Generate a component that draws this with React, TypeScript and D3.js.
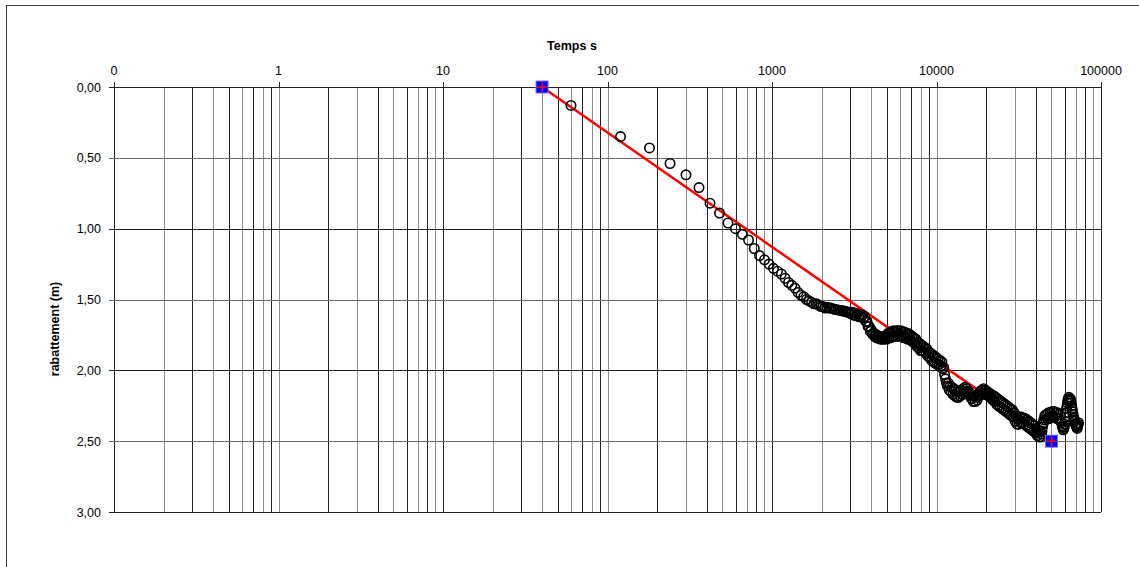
import * as d3 from "d3";
import { useRef, useEffect } from "react";

const timeEarly = [
  60, 120, 180, 240, 300, 360, 420, 480, 540, 600, 660, 720, 780, 840, 900, 960, 1020, 1080, 1140, 1200,
  1260, 1320, 1380, 1440, 1500, 1560, 1620, 1680, 1740, 1800, 1860, 1920, 1980, 2040, 2100,
  2160, 2220, 2280, 2340, 2400, 2460, 2520, 2580, 2640, 2700, 2760, 2820, 2880, 2940, 3000, 3060, 3120, 3180,
  3240, 3300, 3360, 3420, 3480, 3540, 3600, 3660, 3720, 3780, 3840, 3900, 3960, 4020, 4080, 4140, 4200, 4260,
  4320, 4380, 4440, 4500, 4560, 4620, 4680, 4740, 4800, 4860, 4920, 4980,
];
const drawdownEarly = [
  0.13, 0.35, 0.43, 0.54, 0.62, 0.71, 0.82, 0.89, 0.96, 1.0, 1.04, 1.08, 1.14, 1.19, 1.22, 1.25, 1.28, 1.3, 1.32, 1.35,
  1.38, 1.4, 1.42, 1.45, 1.47, 1.48, 1.5, 1.51, 1.52, 1.53, 1.53, 1.54, 1.55, 1.55, 1.56,
  1.555, 1.56, 1.56, 1.565, 1.57, 1.57, 1.575, 1.575, 1.58, 1.58, 1.585, 1.585, 1.59, 1.59, 1.6, 1.59, 1.61, 1.595,
  1.615, 1.6, 1.62, 1.605, 1.625, 1.61, 1.63, 1.62, 1.655, 1.655, 1.69, 1.69, 1.725, 1.715, 1.745, 1.735, 1.76, 1.745,
  1.77, 1.755, 1.775, 1.76, 1.78, 1.765, 1.78, 1.765, 1.78, 1.76, 1.775, 1.755,
];
const timeLate = [
  5000, 5070, 5130, 5200, 5270, 5340, 5410, 5480, 5550, 5620, 5700, 5770, 5850, 5920, 6000, 6080, 6160, 6240,
  6320, 6400, 6490, 6570, 6660, 6750, 6830, 6920, 7010, 7110, 7200, 7290, 7390, 7490, 7580, 7680, 7780, 7890,
  7990, 8090, 8200, 8310, 8420, 8530, 8640, 8750, 8870, 8980, 9100, 9220, 9340, 9460, 9590, 9710, 9840, 9970,
  10100, 10230, 10370, 10500, 10640, 10780, 10920, 11060, 11210, 11350, 11500, 11650, 11800, 11960, 12110,
  12270, 12430, 12600, 12760, 12930, 13100, 13270, 13440, 13620, 13800, 13980, 14160, 14340, 14530, 14720,
  14910, 15110, 15300, 15500, 15710, 15910, 16120, 16330, 16550, 16760, 16980, 17200, 17430, 17660, 17890,
  18120, 18360, 18600, 18840, 19090, 19340, 19590, 19850, 20110, 20370, 20640, 20900, 21180, 21450, 21730,
  22020, 22300, 22600, 22890, 23190, 23490, 23800, 24110, 24430, 24740, 25070, 25390, 25720, 26060, 26400,
  26750, 27100, 27450, 27810, 28170, 28540, 28910, 29290, 29670, 30060, 30450, 30850, 31250, 31660, 32070,
  32490, 32910, 33340, 33780, 34220, 34660, 35120, 35570, 36040, 36510, 36990, 37470, 37960, 38450, 38960,
  39460, 39980, 40500, 41030, 41570, 42110, 42660, 43220, 43780, 44350, 44930, 45520, 46110, 46710, 47320,
  47940, 48570, 49200, 49840, 50490, 51150, 51820, 52500, 53180, 53870, 54580, 55290, 56010, 56740, 57480,
  58230, 58990, 59760, 60540, 61330, 62130, 62940, 63760, 64590, 65430, 66290, 67150, 68020, 68910, 69810,
  70720, 71640, 72570, 73000,
];
const drawdownLate = [
  1.78, 1.74, 1.77, 1.73, 1.77, 1.73, 1.76, 1.72, 1.76, 1.73, 1.72, 1.76, 1.72, 1.75, 1.76, 1.72, 1.76, 1.73,
  1.77, 1.73, 1.77, 1.74, 1.78, 1.74, 1.78, 1.75, 1.79, 1.76, 1.8, 1.77, 1.81, 1.78, 1.83, 1.8, 1.84, 1.81,
  1.86, 1.82, 1.86, 1.83, 1.87, 1.84, 1.88, 1.85, 1.9, 1.87, 1.91, 1.88, 1.93, 1.89, 1.94, 1.9, 1.95, 1.91,
  1.96, 1.92, 1.96, 1.93, 1.97, 1.94, 1.99, 1.98, 2.03, 2.06, 2.09, 2.11, 2.09, 2.14, 2.11,
  2.15, 2.12, 2.17, 2.13, 2.18, 2.14, 2.19, 2.15, 2.19, 2.15, 2.18, 2.14, 2.17, 2.13, 2.16,
  2.12, 2.15, 2.13, 2.16, 2.15, 2.18, 2.17, 2.2, 2.18, 2.22, 2.18, 2.22, 2.19, 2.21, 2.18,
  2.18, 2.15, 2.17, 2.14, 2.16, 2.13, 2.17, 2.14, 2.17, 2.15, 2.18, 2.16, 2.19, 2.17, 2.2,
  2.21, 2.18, 2.22, 2.19, 2.24, 2.2, 2.25, 2.21, 2.26, 2.22, 2.27, 2.23, 2.28, 2.24, 2.29,
  2.25, 2.3, 2.26, 2.31, 2.27, 2.32, 2.28, 2.33, 2.3, 2.36, 2.32, 2.38, 2.34, 2.38, 2.33,
  2.37, 2.33, 2.37, 2.34, 2.38, 2.34, 2.39, 2.35, 2.4, 2.36, 2.41, 2.37, 2.42, 2.38, 2.43,
  2.39, 2.44, 2.41, 2.46, 2.42, 2.47, 2.43, 2.47, 2.43, 2.38, 2.35, 2.32, 2.35, 2.31, 2.34,
  2.3, 2.34, 2.3, 2.33, 2.29, 2.33, 2.29, 2.33, 2.3, 2.34, 2.3, 2.34, 2.31, 2.36, 2.37,
  2.4, 2.42, 2.4, 2.36, 2.3, 2.25, 2.21, 2.19, 2.22, 2.21, 2.25, 2.29, 2.33, 2.35, 2.38,
  2.39, 2.41, 2.38, 2.37,
];
// extra readings where the record jumps quickly (end of test)
const timeTail = [
  41300, 43500, 44100, 44600, 58600, 59370, 60150, 60930, 61730, 62530, 63350, 64170, 65010, 65860, 66720,
  67580, 68460, 69360, 70260, 71180, 72100,
];
const drawdownTail = [
  2.44, 2.45, 2.4, 2.37, 2.39, 2.41, 2.38, 2.33, 2.27, 2.23, 2.2, 2.21, 2.2, 2.23, 2.27,
  2.31, 2.34, 2.36, 2.38, 2.4, 2.39,
];

// straight-line fit (Jacob) through two picked points
const fitTime = [40, 50000];
const fitDrawdown = [0, 2.5];

const xDecades = [0.1, 1, 10, 100, 1000, 10000, 100000];
const yTicks = [0, 0.5, 1, 1.5, 2, 2.5, 3];

export default function App() {
  const ref = useRef<SVGSVGElement>(null);

  const width = 1139;
  const height = 567;
  const marginLeft = 114;
  const marginRight = 38;
  const marginTop = 87;
  const plotBottom = 512;
  const font = "'Liberation Sans', Arial, sans-serif";

  useEffect(() => {
    const svg = d3.select(ref.current);
    svg.selectAll("*").remove();

    const x = d3.scaleLog().domain([0.1, 100000]).range([marginLeft, width - marginRight]);
    const y = d3.scaleLinear().domain([0, 3]).range([marginTop, plotBottom]);

    const times = timeEarly.concat(timeLate, timeTail);
    const values = drawdownEarly.concat(drawdownLate, drawdownTail);

    // chart frame
    svg.append("rect")
      .attr("x", 6.5).attr("y", 5.5)
      .attr("width", width + 20).attr("height", height + 20)
      .attr("fill", "white").attr("stroke", "#3c3c3c");

    // vertical gridlines on every log tick
    const minor: number[] = [];
    for (let d = 0.1; d < 100000; d *= 10) {
      for (let k = 1; k < 10; k++) minor.push(+(d * k).toPrecision(3));
    }
    minor.push(100000);
    svg.append("g")
      .selectAll("line")
      .data(minor)
      .join("line")
        .attr("x1", d => Math.round(x(d)) + 0.5)
        .attr("x2", d => Math.round(x(d)) + 0.5)
        .attr("y1", marginTop)
        .attr("y2", plotBottom)
        .attr("stroke", (d, i) => (i % 2 ? "#8a8a8a" : "#222"))
        .attr("stroke-width", 1);

    // horizontal gridlines
    svg.append("g")
      .selectAll("line")
      .data(yTicks)
      .join("line")
        .attr("x1", marginLeft - 5)
        .attr("x2", width - marginRight)
        .attr("y1", d => Math.round(y(d)) + 0.5)
        .attr("y2", d => Math.round(y(d)) + 0.5)
        .attr("stroke", (d, i) => (i % 2 ? "#6a6a6a" : "#222"));

    // top axis ticks + labels
    const xAxis = svg.append("g");
    xAxis.selectAll("line")
      .data(xDecades)
      .join("line")
        .attr("x1", d => Math.round(x(d)) + 0.5)
        .attr("x2", d => Math.round(x(d)) + 0.5)
        .attr("y1", marginTop - 5)
        .attr("y2", marginTop)
        .attr("stroke", "#222");
    xAxis.selectAll("text")
      .data(xDecades)
      .join("text")
        .attr("x", d => x(d))
        .attr("y", 75)
        .attr("text-anchor", "middle")
        .attr("font-family", font)
        .attr("font-size", 12.5)
        .text(d => (d < 1 ? "0" : String(d)));

    svg.append("text")
      .attr("x", 572)
      .attr("y", 50)
      .attr("text-anchor", "middle")
      .attr("font-family", font)
      .attr("font-size", 12.5)
      .attr("font-weight", "bold")
      .text("Temps s");

    // left axis labels
    svg.append("g")
      .selectAll("text")
      .data(yTicks)
      .join("text")
        .attr("x", 101)
        .attr("y", d => y(d) + 4.5)
        .attr("text-anchor", "end")
        .attr("font-family", font)
        .attr("font-size", 12.5)
        .text(d => d3.format(".2f")(d).replace(".", ","));

    svg.append("text")
      .attr("transform", "translate(59,329) rotate(-90)")
      .attr("text-anchor", "middle")
      .attr("font-family", font)
      .attr("font-size", 12.5)
      .attr("font-weight", "bold")
      .text("rabattement (m)");

    // fit line
    svg.append("path")
      .attr("d", d3.line<number>()
        .x(d => x(fitTime[d]))
        .y(d => y(fitDrawdown[d]))(fitTime.map((_, i) => i)))
      .attr("stroke", "#ff0000")
      .attr("stroke-width", 2.5)
      .attr("fill", "none");

    // measurements
    svg.append("g")
      .selectAll("circle")
      .data(times)
      .join("circle")
        .attr("cx", d => x(d))
        .attr("cy", (d, i) => y(values[i]))
        .attr("r", 4.7)
        .attr("fill", "none")
        .attr("stroke", "black")
        .attr("stroke-width", 1.6);

    // picked points: blue squares with red crosses
    const picks = svg.append("g");
    picks.selectAll("rect")
      .data(fitTime)
      .join("rect")
        .attr("x", d => x(d) - 6)
        .attr("y", (d, i) => y(fitDrawdown[i]) - 6)
        .attr("width", 12)
        .attr("height", 12)
        .attr("fill", "#0000ff")
        .attr("stroke", "#6f6fff")
        .attr("stroke-width", 1);
    picks.selectAll("path")
      .data(fitTime)
      .join("path")
        .attr("d", (d, i) => {
          const cx = x(d), cy = y(fitDrawdown[i]);
          return `M${cx - 5},${cy}H${cx + 5}M${cx},${cy - 5}V${cy + 5}`;
        })
        .attr("stroke", "#ff0000")
        .attr("stroke-width", 1.5);
  }, []);

  return (
    <svg ref={ref} width={width} height={height}
      style={{ position: "absolute", left: 0, top: 0, background: "white" }} />
  );
}
